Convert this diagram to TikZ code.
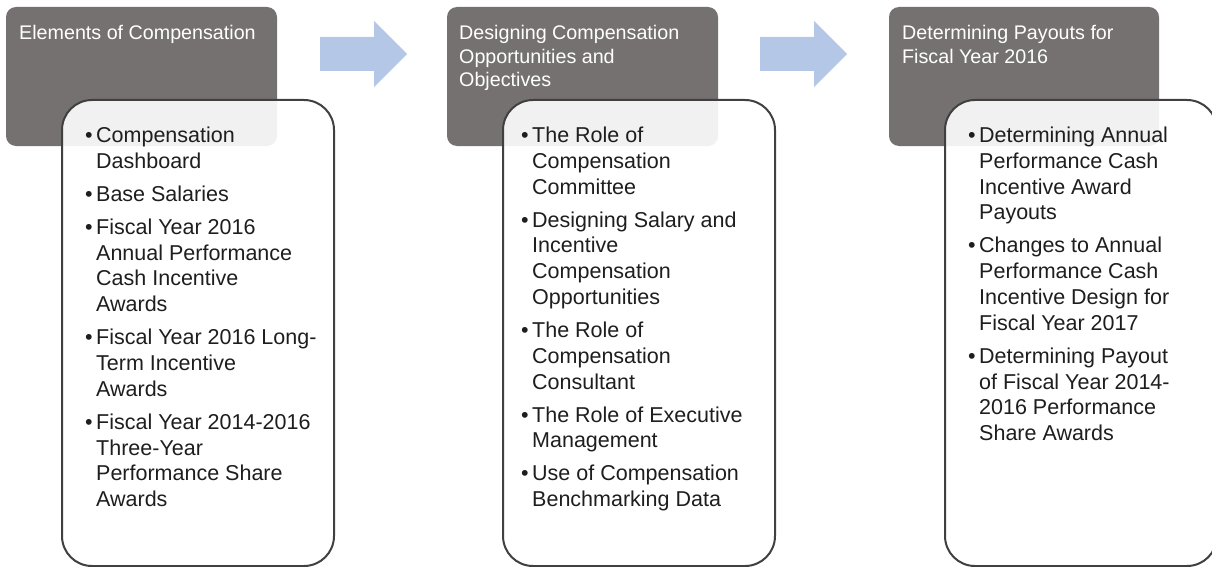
\documentclass[tikz,border=0pt]{standalone}
\usepackage{fontspec}
\setmainfont{Liberation Sans}
\definecolor{darkbox}{HTML}{767171}
\definecolor{arrowblue}{HTML}{B4C7E7}
\definecolor{framegray}{HTML}{404040}
\definecolor{bodytext}{HTML}{1E1E1E}
\newcommand\firstbase[2]{\vtop{\hsize=#1\parindent=0pt\parskip=7.2pt\raggedright #2}}
\newcommand\bul{\leavevmode\llap{\textbullet\hspace{3.5pt}}}
\tikzset{
  headbox/.style={fill=darkbox, rounded corners=10pt},
  listbox/.style={draw=framegray, line width=2pt, fill=white, fill opacity=0.9, draw opacity=1, rounded corners=30pt},
  flowarrow/.style={fill=arrowblue},
  headtext/.style={anchor=base west, inner sep=0pt, text=white, font=\fontsize{19.7}{23.6}\selectfont},
  listtext/.style={anchor=base west, inner sep=0pt, text=bodytext, font=\fontsize{21.5}{25.8}\selectfont},
}
\begin{document}
\begin{tikzpicture}[x=1pt,y=-1pt]
\useasboundingbox (0,0) rectangle (1212,567);
\clip (0,0) rectangle (1212,567);
% dark header boxes
\fill[headbox] (6,7) rectangle (277,146);
\fill[headbox] (447,7) rectangle (718,146);
\fill[headbox] (889,7) rectangle (1159,146);
% header texts
\node[headtext] (h1) at (19,39.5) {\firstbase{250pt}{Elements of Compensation}};
\node[headtext] (h2) at (459,39.5) {\firstbase{250pt}{Designing Compensation\\Opportunities and\\Objectives}};
\node[headtext] (h3) at (902,39.5) {\firstbase{250pt}{Determining Payouts for\\Fiscal Year 2016}};
% list boxes
\path[listbox] (62,100) rectangle (334,566);
\path[listbox] (503,100) rectangle (775,566);
\path[listbox] (945,100) rectangle (1217,566);
% list texts
\node[listtext] (l1) at (96,142.5) {\firstbase{235pt}{%
\bul Compensation\\Dashboard\par
\bul Base Salaries\par
\bul Fiscal Year 2016\\Annual Performance\\Cash Incentive\\Awards\par
\bul Fiscal Year 2016 Long-\\Term Incentive\\Awards\par
\bul Fiscal Year 2014-2016\\Three-Year\\Performance Share\\Awards}};
\node[listtext] (l2) at (532,142.5) {\firstbase{240pt}{%
\bul The Role of\\Compensation\\Committee\par
\bul Designing Salary and\\Incentive\\Compensation\\Opportunities\par
\bul The Role of\\Compensation\\Consultant\par
\bul The Role of Executive\\Management\par
\bul Use of Compensation\\Benchmarking Data}};
\node[listtext] (l3) at (979,142.5) {\firstbase{230pt}{%
\bul Determining Annual\\Performance Cash\\Incentive Award\\Payouts\par
\bul Changes to Annual\\Performance Cash\\Incentive Design for\\Fiscal Year 2017\par
\bul Determining Payout\\of Fiscal Year 2014-\\2016 Performance\\Share Awards}};
% block arrows
\fill[flowarrow] (320,37) -- (374,37) -- (374,21) -- (407,54) -- (374,87) -- (374,71) -- (320,71) -- cycle;
\fill[flowarrow] (760,37) -- (814,37) -- (814,21) -- (847,54) -- (814,87) -- (814,71) -- (760,71) -- cycle;
\end{tikzpicture}
\end{document}
